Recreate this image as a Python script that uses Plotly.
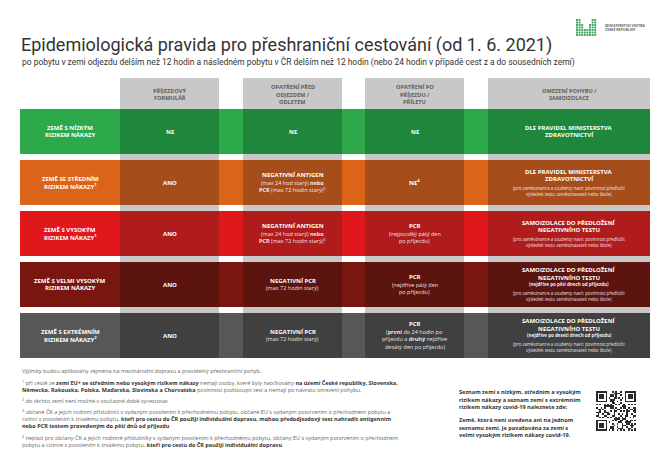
import plotly.graph_objects as go

# ---------------- DATA ----------------
title_text = "Epidemiologická pravida pro přeshraniční cestování (od 1. 6. 2021)"
subtitle_text = ("po pobytu v zemi odjezdu delším než 12 hodin a následném pobytu v ČR delším než 12 hodin "
                 "(nebo 24 hodin v případě cest z a do sousedních zemí)")

col_headers = [
    ["PŘÍJEZDOVÝ", "FORMULÁŘ"],
    ["OPATŘENÍ PŘED", "ODJEZDEM /", "ODLETEM"],
    ["OPATŘENÍ PO", "PŘÍJEZDU /", "PŘÍLETU"],
    ["OMEZENÍ POHYBU /", "SAMOIZOLACE"],
]

row_labels = [
    ["ZEMĚ S NÍZKÝM", "RIZIKEM NÁKAZY"],
    ["ZEMĚ SE STŘEDNÍM", "RIZIKEM NÁKAZY<sup>1</sup>"],
    ["ZEMĚ S VYSOKÝM", "RIZIKEM NÁKAZY<sup>1</sup>"],
    ["ZEMĚ S VELMI VYSOKÝM", "RIZIKEM NÁKAZY"],
    ["ZEMĚ S EXTRÉMNÍM", "RIZIKEM NÁKAZY<sup>2</sup>"],
]

antigen_head = ["NEGATIVNÍ ANTIGEN"]
antigen_sub = ["(max 24 hod starý) <b>nebo</b>", "<b>PCR</b> (max 72 hodin starý)<sup>3</sup>"]
pcr72_head = ["NEGATIVNÍ PCR"]
pcr72_sub = ["(max 72 hodin starý)"]
samo_head = ["SAMOIZOLACE DO PŘEDLOŽENÍ", "NEGATIVNÍHO TESTU"]
employer_fine = ["(pro zaměstnance a studenty navíc povinnost předložit",
                 "výsledek testu zaměstnavateli nebo škole)"]

# cell_head[row][col], cell_sub[row][col], cell_fine[row][col] : lists of text lines
cell_head = [
    [["NE"], ["NE"], ["NE"], ["DLE PRAVIDEL MINISTERSTVA", "ZDRAVOTNICTVÍ"]],
    [["ANO"], antigen_head, ["NE<sup>4</sup>"], ["DLE PRAVIDEL MINISTERSTVA", "ZDRAVOTNICTVÍ"]],
    [["ANO"], antigen_head, ["PCR"], samo_head],
    [["ANO"], pcr72_head, ["PCR"], samo_head],
    [["ANO"], pcr72_head, ["PCR"], samo_head],
]
cell_sub = [
    [[], [], [], []],
    [[], antigen_sub, [], []],
    [[], antigen_sub, ["(nejpozději pátý den", "po příjezdu)"], []],
    [[], pcr72_sub, ["(nejdříve pátý den", "po příjezdu)"], ["(nejdříve po pěti dnech od příjezdu)"]],
    [[], pcr72_sub, ["(<b>první</b> do 24 hodin po", "příjezdu a <b>druhý</b> nejdříve", "desátý den po příjezdu)"],
     ["(nejdříve po deseti dnech od příjezdu)"]],
]
cell_fine = [
    [[], [], [], []],
    [[], [], [], employer_fine],
    [[], [], [], employer_fine],
    [[], [], [], employer_fine],
    [[], [], [], employer_fine],
]

footnotes = [
    "Výjimky budou aplikovány zejména na mezinárodní dopravu a pravidelný přeshraniční pohyb.",
    "<sup>1</sup> při cestě ze <b>zemí EU+ se středním nebo vysokým rizikem nákazy</b> nemají osoby, které byly naočkovány <b>na území České republiky, Slovenska,</b>",
    "<b>Německa, Rakouska, Polska, Maďarska, Slovinska a Chorvatska</b> povinnost podstoupit test a nemají po návratu omezení pohybu.",
    "<sup>2</sup> do těchto zemí není možné v současné době vycestovat",
    "<sup>3</sup> občané ČR a jejich rodinní příslušníci s vydaným povolením k přechodnému pobytu, občané EU s vydaným potvrzením o přechodném pobytu a",
    "cizinci s povolením k trvalému pobytu, <b>kteří pro cestu do ČR použijí individuální dopravu, mohou předodjezdový test nahradit antigenním</b>",
    "<b>nebo PCR testem provedeným do pěti dnů od příjezdu</b>",
    "<sup>4</sup> neplatí pro občany ČR a jejich rodinné příslušníky s vydaným povolením k přechodnému pobytu, občany EU s vydaným potvrzením o přechodném",
    "pobytu a cizince s povolením k trvalému pobytu, <b>kteří pro cestu do ČR použijí individuální dopravu</b>",
]

info_lines = [
    "Seznam zemí s nízkým, středním a vysokým",
    "rizikem nákazy a seznam zemí s extrémním",
    "rizikem nákazy covid-19 naleznete zde:",
    "",
    "Země, která není uvedena ani na jednom",
    "seznamu zemí, je považována za zemi s",
    "velmi vysokým rizikem nákazy covid-19.",
]

logo_lines = ["MINISTERSTVO VNITRA", "ČESKÉ REPUBLIKY"]

# ---------------- STYLE / LAYOUT ----------------
W, H = 670, 474
PAGE_MARGIN = 8  # default body margin of the html page
FONT = "Open Sans"
row_light = ["#2ea94a", "#dc6419", "#e2171c", "#7a1610", "#575757"]
row_dark = ["#1f873c", "#a54e1c", "#b01c1c", "#5c140f", "#404040"]
header_gray = "#c8c8c8"

table_left, label_right, table_right = 20, 120, 650
col_left = [120, 243, 365, 488]
col_right = [219, 342, 464, 650]
header_top, header_bottom = 78, 109
row_pitch, row_h = 51, 45

fig = go.Figure()
shapes, annotations = [], []


def rect(x0, y0, x1, y1, color):
    shapes.append(dict(type="rect", xref="x", yref="y", x0=x0, x1=x1, y0=y0, y1=y1,
                       fillcolor=color, line=dict(width=0), layer="below"))


def text(x, y, s, size, color, anchor="center", bold=False, family=FONT):
    annotations.append(dict(x=x, y=y, xref="x", yref="y", text=s, showarrow=False,
                            xanchor=anchor, yanchor="middle", align=anchor if anchor != "center" else "center",
                            font=dict(family=family, size=size, color=color,
                                      weight="bold" if bold else "normal")))


n_rows = len(row_labels)
table_bottom = header_bottom + (n_rows - 1) * row_pitch + row_h

# column gray backgrounds (header + full height)
for c in range(len(col_headers)):
    rect(col_left[c], header_top, col_right[c], table_bottom, header_gray)

# header texts
for c, lines in enumerate(col_headers):
    xc = (col_left[c] + col_right[c]) / 2
    n = len(lines)
    for k, ln in enumerate(lines):
        y = 94.5 + (k - (n - 1) / 2) * 7.3
        text(xc, y, ln, 5.6, "#5e5e5e", bold=True)

kind_style = {
    "head": (6.0, "#ffffff", True),
    "sub": (5.5, "rgba(255,255,255,0.9)", False),
    "csub": (4.5, "rgba(255,255,255,0.95)", True),
    "fine": (4.4, "rgba(255,255,255,0.9)", False),
}


def stack(lines, xc, yc):
    if not lines:
        return
    ys = [0.0]
    for k in range(1, len(lines)):
        prev, cur = lines[k - 1][1], lines[k][1]
        if cur == "fine" and prev != "fine":
            d = 8.5
        elif cur == "fine":
            d = 6.0
        elif cur == "csub":
            d = 6.5
        else:
            d = 7.5
        ys.append(ys[-1] + d)
    off = yc - (ys[0] + ys[-1]) / 2
    for (s, kind), y in zip(lines, ys):
        size, color, bold = kind_style[kind]
        text(xc, y + off, s, size, color, bold=bold)


for r in range(n_rows):
    top = header_bottom + r * row_pitch
    bot = top + row_h
    yc = (top + bot) / 2
    rect(table_left, top, table_right, bot, row_light[r])
    lab = row_labels[r]
    for k, ln in enumerate(lab):
        text((table_left + label_right) / 2, yc + (k - (len(lab) - 1) / 2) * 7.0, ln, 6.0, "#ffffff", bold=True)
    for c in range(len(col_headers)):
        rect(col_left[c], top, col_right[c], bot, row_dark[r])
        lines = [(s, "head") for s in cell_head[r][c]]
        lines += [(s, "csub" if c == 3 else "sub") for s in cell_sub[r][c]]
        lines += [(s, "fine") for s in cell_fine[r][c]]
        stack(lines, (col_left[c] + col_right[c]) / 2, yc)

# title & subtitle
text(19, 44.5, title_text, 18.0, "#333333", anchor="left", family="Liberation Sans Narrow, Roboto")
text(20, 61.5, subtitle_text, 8.45, "#333333", anchor="left", family="Liberation Sans Narrow, Roboto")

# footnotes
foot_y = [370.7, 382.7, 389.6, 401, 412.3, 419.2, 426.1, 437.7, 444.6]
for s, y in zip(footnotes, foot_y):
    s = s.replace("<b>", "<b><span style='color:#333333'>").replace("</b>", "</span></b>")
    text(20, y, s, 5.5, "#666666", anchor="left")

# info box
iy = 392.0
for s in info_lines:
    if s:
        text(457, iy, s, 5.6, "#333333", anchor="left", bold=True)
        iy += 7.6
    else:
        iy += 5.2

# QR-like code (decorative)
N = 25
qr = [[0] * N for _ in range(N)]
for i in range(N):
    for j in range(N):
        qr[i][j] = 1 if ((i * i * 3 + j * 7 + i * j * 5 + (i ^ j)) % 5) < 2 else 0


def finder(r0, c0):
    for i in range(-1, 8):
        for j in range(-1, 8):
            ii, jj = r0 + i, c0 + j
            if 0 <= ii < N and 0 <= jj < N:
                v = 0
                if 0 <= i <= 6 and 0 <= j <= 6:
                    v = 1 if (i in (0, 6) or j in (0, 6) or (2 <= i <= 4 and 2 <= j <= 4)) else 0
                qr[ii][jj] = v


finder(0, 0)
finder(0, N - 7)
finder(N - 7, 0)
qx0, qy0, qsz = 596, 391, 40
mod = qsz / N
fig.add_trace(go.Heatmap(z=qr, x0=qx0 + mod / 2, dx=mod, y0=qy0 + mod / 2, dy=mod,
                         colorscale=[[0, "#ffffff"], [1, "#2a2a2a"]], showscale=False,
                         hoverinfo="skip", zmin=0, zmax=1))

# logo dots (decorative)
heights = [7, 7, 5, 3, 3, 5, 7, 7]
lx, ly = [], []
for ci, h in enumerate(heights):
    for k in range(h):
        lx.append(577 + ci * 2.6)
        ly.append(35 - k * 2.5)
fig.add_trace(go.Scatter(x=lx, y=ly, mode="markers", hoverinfo="skip",
                         marker=dict(symbol="square", size=1.9, color="#3aa457", line=dict(width=0))))
text(603, 25.5, logo_lines[0], 3.5, "#666666", anchor="left", bold=True)
text(603, 29.8, logo_lines[1], 3.5, "#666666", anchor="left", bold=True)

# the page body adds an 8px margin, so the figure is shrunk and its axes shifted to match window pixels
fig.update_layout(
    width=W - PAGE_MARGIN, height=H - PAGE_MARGIN, margin=dict(l=0, r=0, t=0, b=0),
    paper_bgcolor="white", plot_bgcolor="white", showlegend=False,
    xaxis=dict(range=[PAGE_MARGIN, W], visible=False, fixedrange=True),
    yaxis=dict(range=[H, PAGE_MARGIN], visible=False, fixedrange=True),
    shapes=shapes, annotations=annotations,
)
fig.write_html("out.html")
